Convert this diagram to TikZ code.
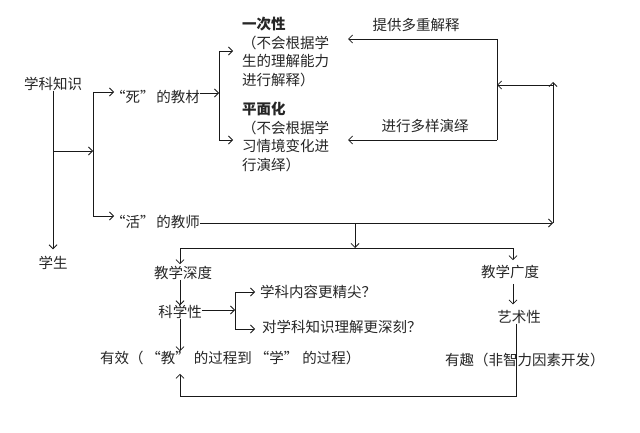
\documentclass[tikz,border=0pt]{standalone}
\usepackage{fontspec}
\setmainfont{Noto Sans CJK SC}
\usetikzlibrary{arrows.meta}
\begin{document}
\begin{tikzpicture}[x=1pt,y=-1pt,
  lbl/.style={inner sep=0pt,outer sep=0pt,font=\fontsize{14.5}{18.7}\selectfont,text=black!85},
  ln/.style={line width=0.75pt,draw=black!90},
  arr/.style={ln,-{Straight Barb[length=4pt,width=8pt]}}]
\fill[white] (0,0) rectangle (640,433);
\useasboundingbox (0,0) rectangle (640,433);

% texts
\node[lbl] (xk) at (53,84) {学科知识};
\node[lbl] (xs) at (53,263) {学生};
\node[lbl,anchor=west] (jc) at (111,97) {“死”\hspace{2pt}的教材};
\node[lbl,anchor=west] (js) at (111,222) {“活”\hspace{2pt}的教师};
\node[lbl,anchor=west,align=left] (ycx) at (242,52) {\textbf{一次性}\\（不会根据学\\生的理解能力\\进行解释）};
\node[lbl,anchor=west,align=left] (pmh) at (242,137) {\textbf{平面化}\\（不会根据学\\习情境变化进\\行演绎）};
\node[lbl] (tg) at (416,25) {提供多重解释};
\node[lbl] (dy) at (425,126) {进行多样演绎};
\node[lbl] (sd) at (183,273) {教学深度};
\node[lbl] (gd) at (510,272) {教学广度};
\node[lbl] (kx) at (180,312) {科学性};
\node[lbl] (ys) at (519,317) {艺术性};
\node[lbl,anchor=west] (q1) at (260,292) {学科内容更精尖？};
\node[lbl,anchor=west] (q2) at (262,327) {对学科知识理解更深刻？};
\node[lbl,anchor=west] (yx) at (100,358) {有效（\hspace{3pt}“教”\hspace{4pt}的过程到\hspace{3pt}“学”\hspace{4pt}的过程）};
\node[lbl,anchor=west] (yq) at (445,360) {有趣（非智力因素开发）};

% junction coordinates
\coordinate (t1) at (53,151);
\coordinate (s1) at (93,151);
\coordinate (s1t) at (93,92);
\coordinate (s1b) at (93,216);
\coordinate (s2) at (219,93);
\coordinate (s2t) at (219,51);
\coordinate (s2b) at (219,140);
\coordinate (f1t) at (497,39);
\coordinate (f1b) at (497,140);
\coordinate (f1m) at (497,85);
\coordinate (a1) at (348,39);
\coordinate (a2) at (348,140);
\coordinate (f2t) at (553,85);
\coordinate (f2u) at (553,82);
\coordinate (f2b) at (553,223);
\coordinate (d0) at (355,223);
\coordinate (d1) at (355,248);
\coordinate (dl) at (180,248);
\coordinate (dr) at (513,248);
\coordinate (k1) at (235,310);
\coordinate (k1t) at (235,292);
\coordinate (k1b) at (235,329);
\coordinate (bb) at (516,396);
\coordinate (ba) at (180,396);

% top-left
\draw[arr,shorten >=7pt] (xk.south) -- (xs.north);
\draw[arr] (t1) -- (s1);
\draw[ln] (s1t) -- (s1b);
\draw[arr,shorten >=-3pt] (s1t) -- (s1t -| jc.west);
\draw[arr,shorten >=-3pt] (s1b) -- (s1b -| js.west);

% textbook split
\draw[arr] (s2 -| jc.east) -- (s2);
\draw[ln] (s2t) -- (s2b);
\draw[arr,shorten >=9pt] (s2t) -- (s2t -| ycx.west);
\draw[arr,shorten >=9pt] (s2b) -- (s2b -| pmh.west);

% feedback loop
\draw[ln] (f1t) -- (f1b);
\draw[arr] (f1t) -- (a1);
\draw[arr] (f1b) -- (a2);
\draw[arr] (f2t) -- (f1m);
\draw[arr] (f2b) -- (f2u);
\draw[arr] (f2b -| js.east) -- (f2b);

% lower split
\draw[arr] (d0) -- (d1);
\draw[ln] (dl) -- (dr);
\draw[arr,shorten >=2pt] (dl) -- (dl |- sd.north);
\draw[arr,shorten >=5pt] (dr) -- (dr |- gd.north);
\draw[arr] (sd.south -| dl) -- (kx.north -| dl);
\draw[arr] (kx.south -| dl) -- (yx.north -| dl);
\draw[arr] (kx.east |- k1) -- (k1);
\draw[ln] (k1t) -- (k1b);
\draw[arr,shorten >=5pt] (k1t) -- (k1t -| q1.west);
\draw[arr,shorten >=7pt] (k1b) -- (k1b -| q2.west);
\draw[arr,shorten <=5pt,shorten >=6pt] (gd.south -| dr) -- (ys.north -| dr);
\draw[arr,shorten >=9pt] (ys.south -| bb) -- (bb) -- (ba) -- (yx.south -| ba);
\end{tikzpicture}
\end{document}
